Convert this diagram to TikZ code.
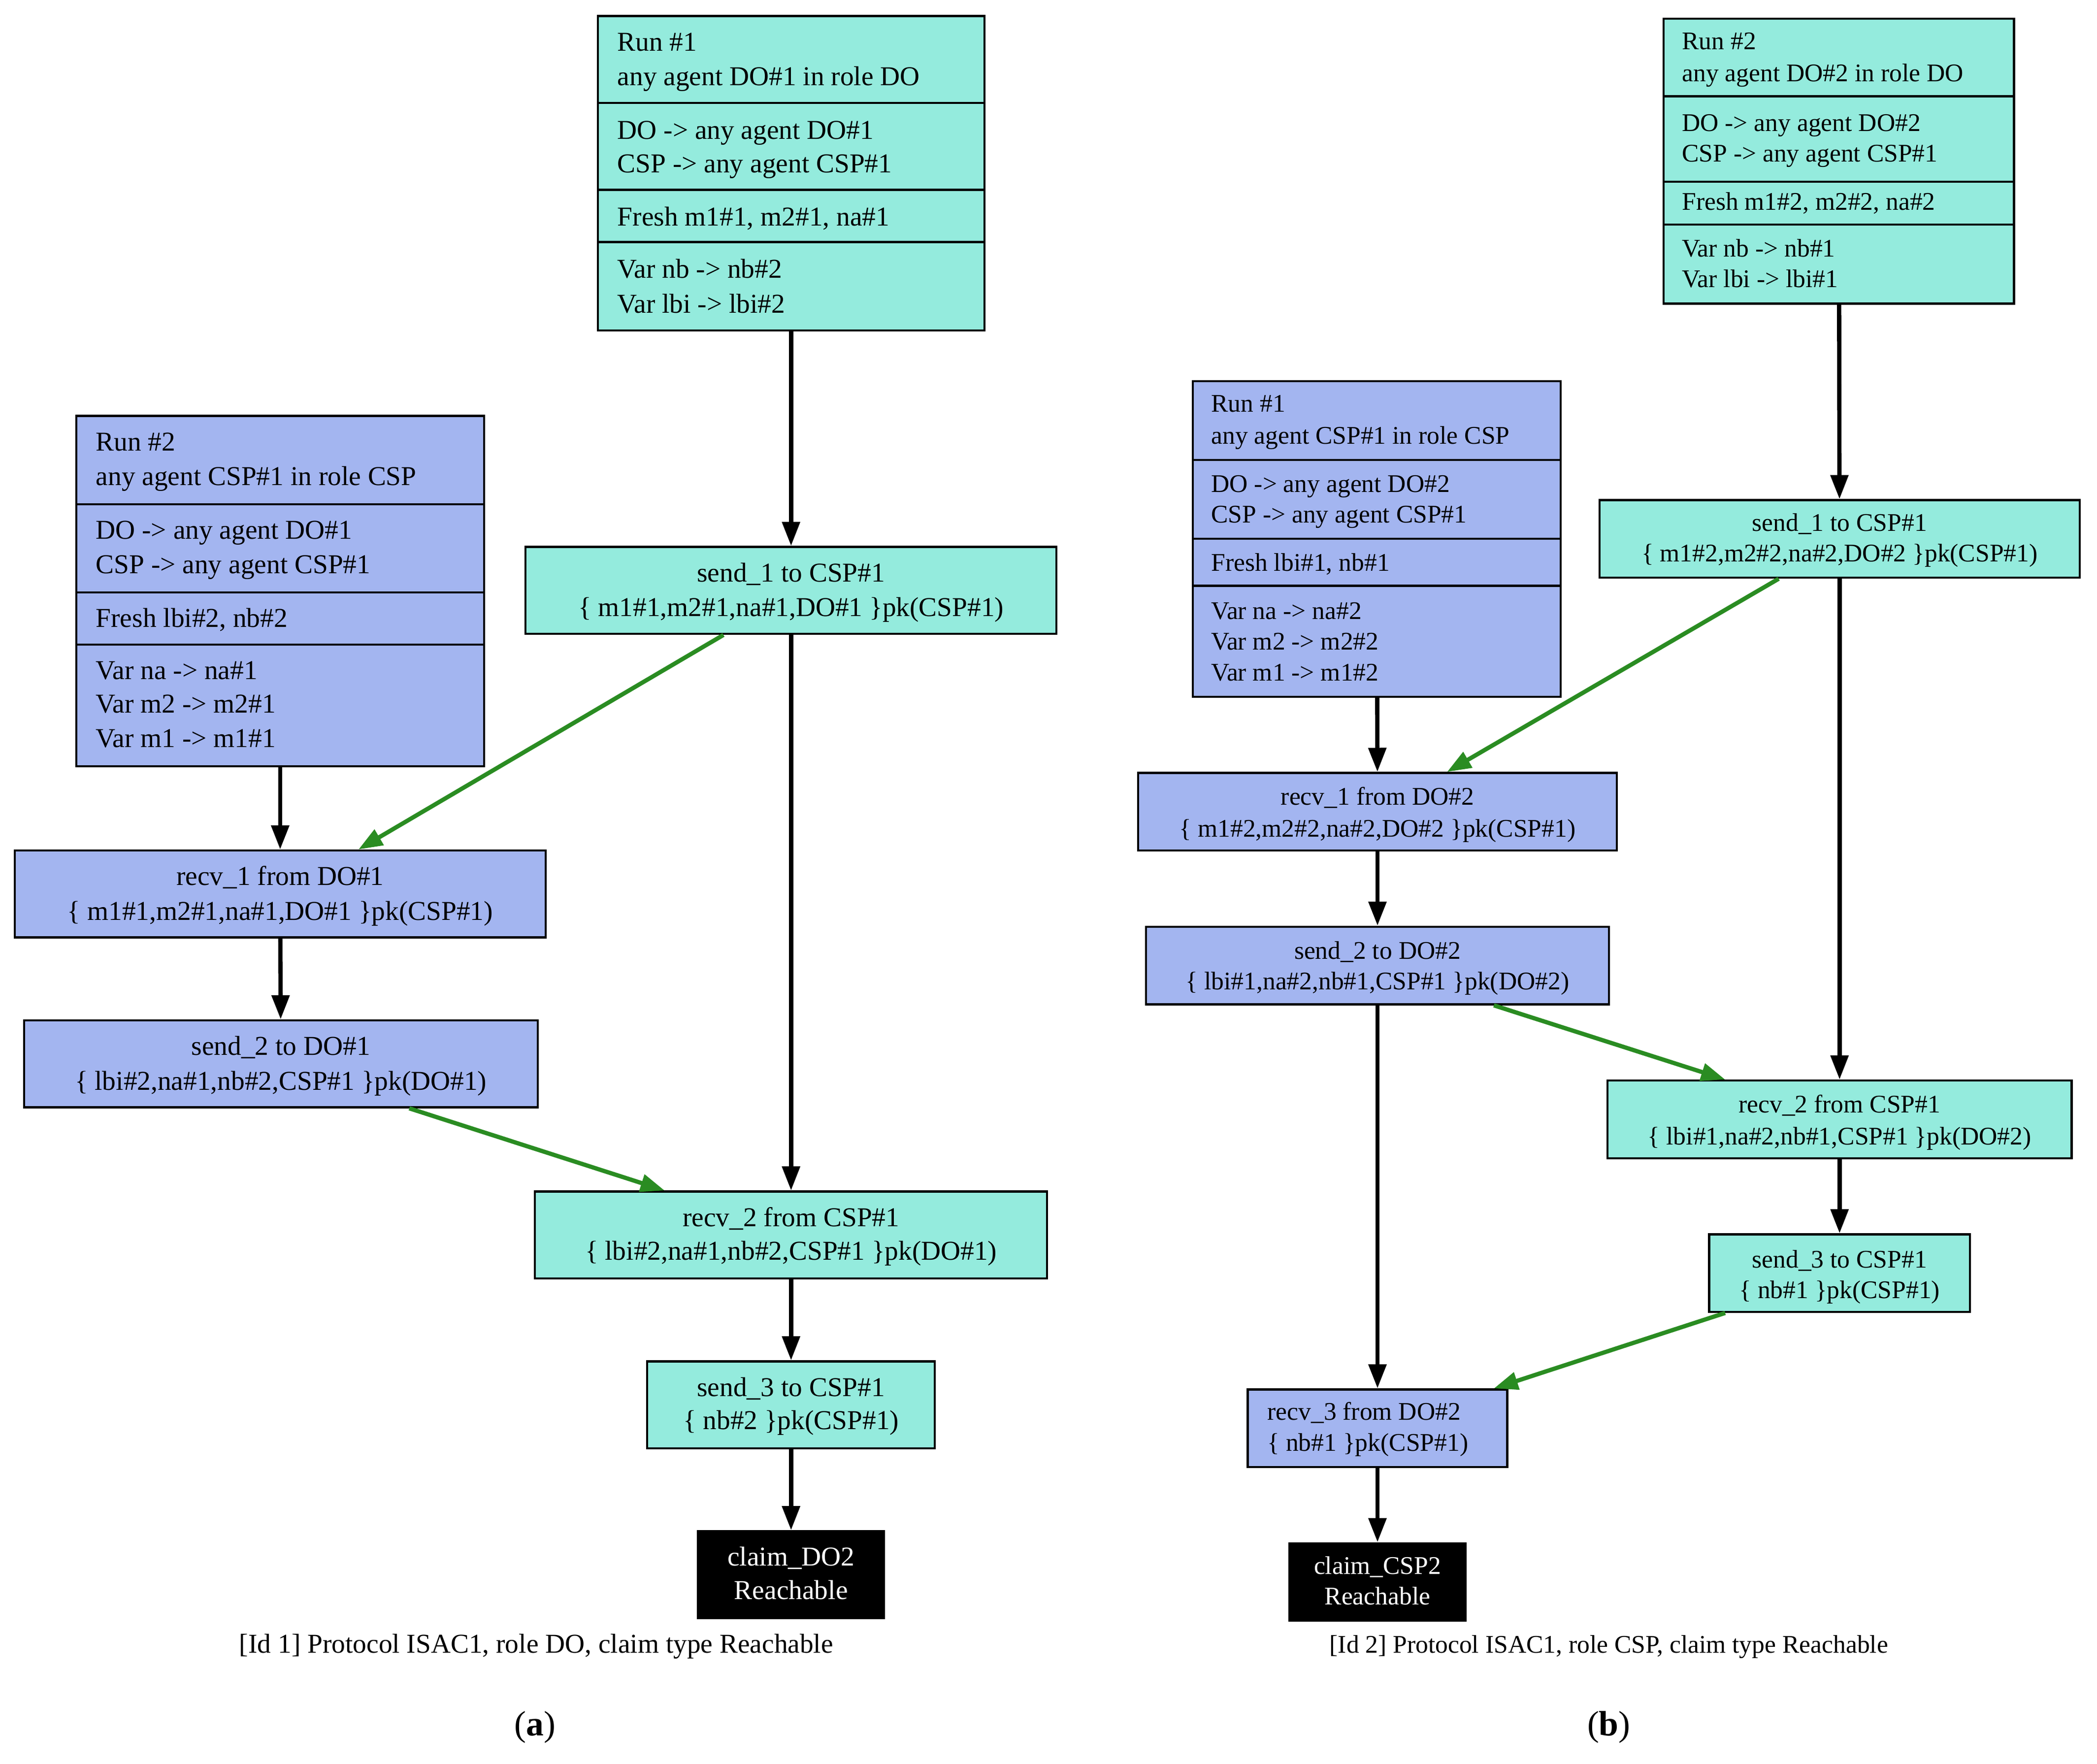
\documentclass[tikz,border=0pt]{standalone}
\usepackage{fontspec}
\setmainfont{Liberation Serif}
\usetikzlibrary{arrows.meta}
\definecolor{cy}{HTML}{94EBDD}
\definecolor{bl}{HTML}{A3B5F0}
\definecolor{gr}{HTML}{2A8C22}
\newcommand\bx[6]{\node[draw=black,line width=0.45pt,fill=#6,inner sep=0,minimum width={(#4-#2)*0.01cm},minimum height={(#5-#3)*0.01cm}] (#1) at ({(#2+#4)/2},{(#3+#5)/2}) {};}
\newcommand\sep[3]{\draw[line width=0.45pt] (#1,#3) -- (#2,#3);}
\newcommand\tl[3]{\node[anchor=base west,inner sep=0] at (#1,#2+7) {#3};}
\newcommand\tc[3]{\node[anchor=base,inner sep=0] at (#1,#2+7) {#3};}
\newcommand\tw[3]{\node[anchor=base,inner sep=0,text=white] at (#1,#2+7) {#3};}
\tikzset{arr/.style={line width=0.9pt,-{Triangle[length=0.18cm,width=0.13cm]}},
garr/.style={arr,draw=gr,-{Triangle[length=0.18cm,width=0.13cm,fill=gr]}}}
\begin{document}
\begin{tikzpicture}[x=0.01cm,y=-0.01cm]
\useasboundingbox (0,0) rectangle (1568,1319);
% ---------- (a)
\begin{scope}[font=\fontsize{5.8pt}{7pt}\selectfont]
\bx{a1}{447}{12}{736}{247}{cy}
\sep{447}{736}{77}\sep{447}{736}{142}\sep{447}{736}{181}
\tl{461}{31}{Run \#1}\tl{461}{57}{any agent DO\#1 in role DO}
\tl{461}{97}{DO -> any agent DO\#1}\tl{461}{122}{CSP -> any agent CSP\#1}
\tl{461}{162}{Fresh m1\#1, m2\#1, na\#1}
\tl{461}{201}{Var nb -> nb\#2}\tl{461}{227}{Var lbi -> lbi\#2}
\bx{a2}{57}{311}{362}{573}{bl}
\sep{57}{362}{377}\sep{57}{362}{443}\sep{57}{362}{482}
\tl{71}{330}{Run \#2}\tl{71}{356}{any agent CSP\#1 in role CSP}
\tl{71}{396}{DO -> any agent DO\#1}\tl{71}{422}{CSP -> any agent CSP\#1}
\tl{71}{462}{Fresh lbi\#2, nb\#2}
\tl{71}{501}{Var na -> na\#1}\tl{71}{526}{Var m2 -> m2\#1}\tl{71}{552}{Var m1 -> m1\#1}
\bx{as1}{393}{409}{790}{474}{cy}
\tc{591.5}{428}{send\_1 to CSP\#1}\tc{591.5}{454}{\{ m1\#1,m2\#1,na\#1,DO\#1 \}pk(CSP\#1)}
\bx{ar1}{11}{636}{408}{701}{bl}
\tc{209.5}{655}{recv\_1 from DO\#1}\tc{209.5}{681}{\{ m1\#1,m2\#1,na\#1,DO\#1 \}pk(CSP\#1)}
\bx{as2}{18}{763}{402}{828}{bl}
\tc{210}{782}{send\_2 to DO\#1}\tc{210}{808}{\{ lbi\#2,na\#1,nb\#2,CSP\#1 \}pk(DO\#1)}
\bx{ar2}{400}{891}{783}{956}{cy}
\tc{591.5}{910}{recv\_2 from CSP\#1}\tc{591.5}{935}{\{ lbi\#2,na\#1,nb\#2,CSP\#1 \}pk(DO\#1)}
\bx{as3}{484}{1018}{699}{1083}{cy}
\tc{591.5}{1037}{send\_3 to CSP\#1}\tc{591.5}{1062}{\{ nb\#2 \}pk(CSP\#1)}
\bx{ac}{522}{1145}{661}{1210}{black}
\tw{591.5}{1164}{claim\_DO2}\tw{591.5}{1189}{Reachable}
\node[anchor=base,inner sep=0] (capa) at (401,1236) {[Id 1] Protocol ISAC1, role DO, claim type Reachable};
\end{scope}
\node[anchor=base,inner sep=0,font=\fontsize{7.5pt}{9pt}\selectfont] (la) at (400,1298) {(\textbf{a})};
\draw[arr] (a1) -- (as1);
\draw[arr] (as1) -- (ar2);
\draw[arr] (a2) -- (ar1);
\draw[arr] (ar1) -- (as2);
\draw[arr] (ar2) -- (as3);
\draw[arr] (as3) -- (ac);
\draw[garr] ([xshift=-0.505cm]as1.south) -- ([xshift=0.585cm]ar1.north);
\draw[garr] ([xshift=0.96cm]as2.south) -- ([xshift=-0.945cm]ar2.north);
% ---------- (b)
\begin{scope}[font=\fontsize{5.4pt}{6.5pt}\selectfont]
\bx{b1}{1244}{14}{1506}{227}{cy}
\sep{1244}{1506}{72}\sep{1244}{1506}{136}\sep{1244}{1506}{168}
\tl{1257}{30}{Run \#2}\tl{1257}{54}{any agent DO\#2 in role DO}
\tl{1257}{91}{DO -> any agent DO\#2}\tl{1257}{114}{CSP -> any agent CSP\#1}
\tl{1257}{150}{Fresh m1\#2, m2\#2, na\#2}
\tl{1257}{185}{Var nb -> nb\#1}\tl{1257}{208}{Var lbi -> lbi\#1}
\bx{b2}{892}{285}{1167}{521}{bl}
\sep{892}{1167}{344}\sep{892}{1167}{403}\sep{892}{1167}{438}
\tl{905}{301}{Run \#1}\tl{905}{325}{any agent CSP\#1 in role CSP}
\tl{905}{361}{DO -> any agent DO\#2}\tl{905}{384}{CSP -> any agent CSP\#1}
\tl{905}{420}{Fresh lbi\#1, nb\#1}
\tl{905}{456}{Var na -> na\#2}\tl{905}{479}{Var m2 -> m2\#2}\tl{905}{502}{Var m1 -> m1\#2}
\bx{bs1}{1196}{374}{1555}{432}{cy}
\tc{1375.5}{390}{send\_1 to CSP\#1}\tc{1375.5}{413}{\{ m1\#2,m2\#2,na\#2,DO\#2 \}pk(CSP\#1)}
\bx{br1}{851}{578}{1209}{636}{bl}
\tc{1030}{595}{recv\_1 from DO\#2}\tc{1030}{619}{\{ m1\#2,m2\#2,na\#2,DO\#2 \}pk(CSP\#1)}
\bx{bs2}{857}{693}{1203}{751}{bl}
\tc{1030}{710}{send\_2 to DO\#2}\tc{1030}{733}{\{ lbi\#1,na\#2,nb\#1,CSP\#1 \}pk(DO\#2)}
\bx{br2}{1202}{808}{1549}{866}{cy}
\tc{1375.5}{825}{recv\_2 from CSP\#1}\tc{1375.5}{849}{\{ lbi\#1,na\#2,nb\#1,CSP\#1 \}pk(DO\#2)}
\bx{bs3}{1278}{923}{1473}{981}{cy}
\tc{1375.5}{941}{send\_3 to CSP\#1}\tc{1375.5}{964}{\{ nb\#1 \}pk(CSP\#1)}
\bx{br3}{933}{1039}{1127}{1097}{bl}
\tl{947}{1055}{recv\_3 from DO\#2}\tl{947}{1078}{\{ nb\#1 \}pk(CSP\#1)}
\bx{bc}{964}{1154}{1096}{1212}{black}
\tw{1030}{1170}{claim\_CSP2}\tw{1030}{1193}{Reachable}
\node[anchor=base,inner sep=0] (capb) at (1203,1236) {[Id 2] Protocol ISAC1, role CSP, claim type Reachable};
\end{scope}
\node[anchor=base,inner sep=0,font=\fontsize{7.5pt}{9pt}\selectfont] (lb) at (1203,1298) {(\textbf{b})};
\draw[arr] (b1) -- (bs1);
\draw[arr] (bs1) -- (br2);
\draw[arr] (b2) -- (br1);
\draw[arr] (br1) -- (bs2);
\draw[arr] (bs2) -- (br3);
\draw[arr] (br2) -- (bs3);
\draw[arr] (br3) -- (bc);
\draw[garr] ([xshift=-0.455cm]bs1.south) -- ([xshift=0.52cm]br1.north);
\draw[garr] ([xshift=0.87cm]bs2.south) -- ([xshift=-0.855cm]br2.north);
\draw[garr] ([xshift=-0.855cm]bs3.south) -- ([xshift=0.87cm]br3.north);
\end{tikzpicture}
\end{document}
